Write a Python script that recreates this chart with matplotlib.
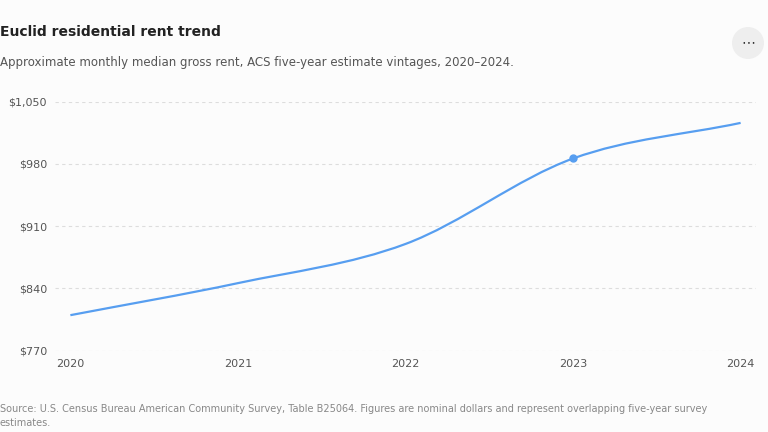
import matplotlib.pyplot as plt
from matplotlib.path import Path
from matplotlib.patches import PathPatch, Circle

years = [2020, 2021, 2022, 2023, 2024]
rent = [810, 846, 890, 986, 1026]
highlight_year = 2023
highlight_rent = 986
y_ticks = [770, 840, 910, 980, 1050]

fig = plt.figure(figsize=(7.68, 4.32), dpi=100)
fig.patch.set_facecolor('#fcfcfc')
ax = fig.add_axes([0.072, 0.188, 0.912, 0.577])
ax.set_facecolor('#fcfcfc')

# monotone tangents -> cubic bezier segments
n = len(years)
d = [(rent[i + 1] - rent[i]) / (years[i + 1] - years[i]) for i in range(n - 1)]
m = [d[0]] + [(d[i - 1] + d[i]) / 2 if d[i - 1] * d[i] > 0 else 0 for i in range(1, n - 1)] + [d[-1]]
verts = [(years[0], rent[0])]
codes = [Path.MOVETO]
for i in range(n - 1):
    h = years[i + 1] - years[i]
    verts += [(years[i] + h / 3, rent[i] + m[i] * h / 3),
              (years[i + 1] - h / 3, rent[i + 1] - m[i + 1] * h / 3),
              (years[i + 1], rent[i + 1])]
    codes += [Path.CURVE4] * 3
ax.add_patch(PathPatch(Path(verts, codes), fill=False, edgecolor='#579ef0', lw=1.6, zorder=3))
ax.plot([highlight_year], [highlight_rent], 'o', color='#579ef0', ms=5, zorder=4)

ax.set_xlim(2019.91, 2024.09)
ax.set_ylim(770, 1050)
ax.set_xticks(years)
ax.set_xticklabels([str(y) for y in years])
ax.set_yticks(y_ticks)
ax.set_yticklabels([f'${v:,}' for v in y_ticks])
ax.tick_params(length=0, labelsize=8, colors='#555555', pad=6)
ax.grid(axis='y', color='#dddddd', ls=(0, (3, 3)), lw=0.8)
for s in ax.spines.values():
    s.set_visible(False)

fig.text(0.0, 0.917, 'Euclid residential rent trend', fontsize=10, fontweight='bold', color='#222222')
fig.text(0.0, 0.847, 'Approximate monthly median gross rent, ACS five-year estimate vintages, 2020\u20132024.',
         fontsize=8.5, color='#555555')
fig.text(0.0, 0.015, 'Source: U.S. Census Bureau American Community Survey, Table B25064. Figures are nominal dollars and represent overlapping five-year survey\nestimates.',
         fontsize=7, color='#888888', linespacing=1.5)
fig.patches.append(Circle((748, 432 - 43), 16, transform=None, facecolor='#eeeeee', edgecolor='none'))
fig.text(748 / 768, 1 - 42 / 432, '\u22ef', fontsize=10, color='#333333', ha='center', va='center')

fig.savefig('out.png', dpi=100, facecolor=fig.get_facecolor())
